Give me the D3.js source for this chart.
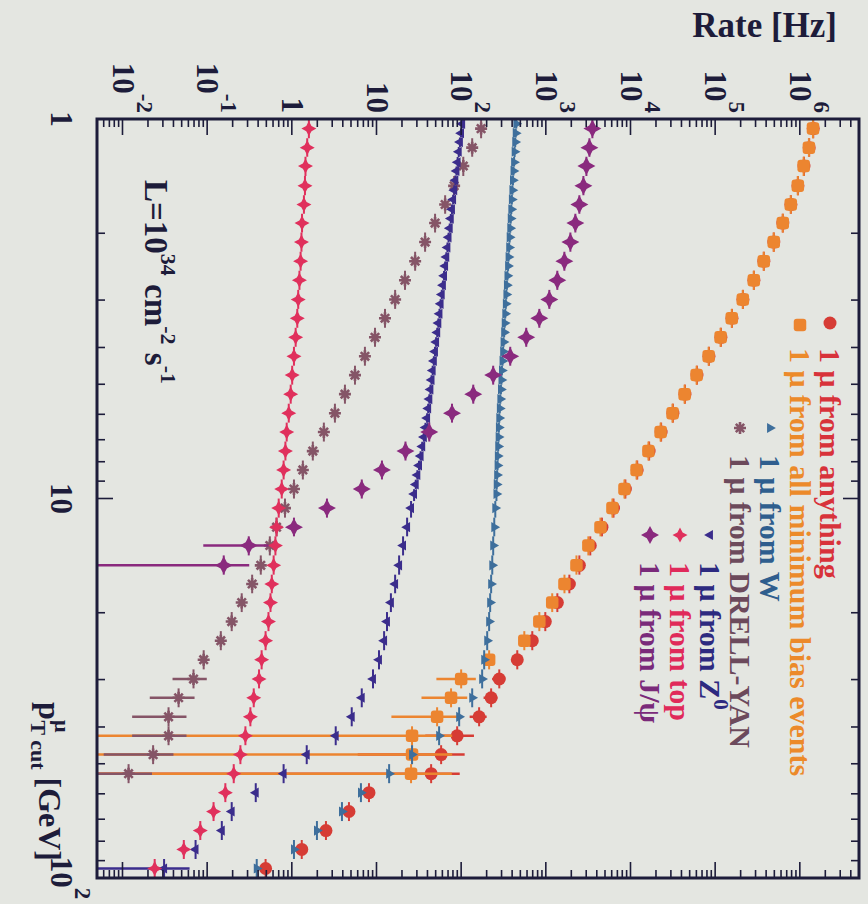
<!DOCTYPE html>
<html>
<head>
<meta charset="utf-8">
<script src="https://cdn.jsdelivr.net/npm/d3@7"></script>
<style>
  body { margin: 0; background: #e4e6e1; }
  svg text { font-family: "Liberation Serif", "Times New Roman", serif; font-weight: bold; }
</style>
</head>
<body>
<svg id="chart" width="868" height="904"></svg>
<script>
// pT cut bin centres (GeV), 20 bins per decade
const ptCut = [1.06, 1.19, 1.33, 1.50, 1.68, 1.88, 2.11, 2.37, 2.66, 2.99,
  3.35, 3.76, 4.22, 4.73, 5.31, 5.96, 6.68, 7.50, 8.41, 9.44,
  10.6, 11.9, 13.3, 15.0, 16.8, 18.8, 21.1, 23.7, 26.6, 29.9,
  33.5, 37.6, 42.2, 47.3, 53.1, 59.6, 66.8, 75.0, 84.1, 94.4];
// finer binning used by W and Z below 10 GeV, then the same bins as above
const ptFine = [1.03, 1.09, 1.15, 1.22, 1.30, 1.37, 1.45, 1.54, 1.63, 1.73,
  1.83, 1.94, 2.05, 2.18, 2.31, 2.44, 2.59, 2.74, 2.90, 3.07,
  3.26, 3.45, 3.65, 3.87, 4.10, 4.34, 4.60, 4.87, 5.16, 5.47,
  5.79, 6.14, 6.50, 6.89, 7.29, 7.73, 8.18, 8.67, 9.18, 9.73,
  10.6, 11.9, 13.3, 15.0, 16.8, 18.8, 21.1, 23.7, 26.6, 29.9,
  33.5, 37.6, 42.2, 47.3, 53.1, 59.6, 66.8, 75.0, 84.1, 94.4];

// rates in Hz, one value per bin starting at the first bin
const rateAnything = [1.44e6, 1.29e6, 1.12e6, 9.5e5, 7.85e5, 6.3e5, 4.93e5, 3.76e5, 2.87e5, 2.13e5,
  1.58e5, 1.17e5, 8.45e4, 6.1e4, 4.4e4, 3.17e4, 2.3e4, 1.66e4, 1.2e4, 8.7e3,
  6.3e3, 4.6e3, 3.35e3, 2490, 1897, 1368, 986, 692, 460, 282,
  226, 163, 89.7, 58, 44.2, 8.15, 4.73, 2.53, 1.31, 0.49];
const rateMinBias = [1.43e6, 1.28e6, 1.11e6, 9.47e5, 7.82e5, 6.29e5, 4.92e5, 3.75e5, 2.86e5, 2.12e5,
  1.57e5, 1.16e5, 8.38e4, 6.04e4, 4.36e4, 3.14e4, 2.27e4, 1.63e4, 1.18e4, 8.49e3,
  6.12e3, 4.42e3, 3.18e3, 2.30e3, 1.66e3, 1.19e3, 838, 557, 214, 100,
  76, 52, 26.3, 26.3, 25.6];
const rateW = [448, 441, 435, 428, 422, 415, 409, 403, 397, 391,
  385, 380, 374, 369, 363, 358, 352, 347, 342, 337,
  332, 327, 322, 317, 313, 308, 303, 299, 295, 290,
  286, 282, 279, 277, 274, 271, 269, 266, 263, 261,
  253, 246, 239, 233, 226, 220, 214, 203, 187, 177,
  135, 94.7, 54.9, 26.3, 14.1, 6.55, 3.91, 1.98, 1.06, 0.385];
const rateDY = [172, 135, 106, 82.6, 64.7, 49.2, 37.5, 28.6, 21.7, 16.6,
  12.6, 9.6, 7.3, 5.57, 4.24, 3.23, 2.39, 1.77, 1.35, 1.06,
  0.83, 0.66, 0.55, 0.43, 0.34, 0.256, 0.195, 0.145, 0.091, 0.069,
  0.046, 0.035, 0.035, 0.023, 0.0118];
const rateZ = [102.8, 99.7, 96.7, 93.7, 90.9, 88.1, 85.5, 82.9, 80.4, 77.9,
  75.5, 73.3, 71.0, 68.9, 66.8, 64.7, 62.8, 60.9, 59.0, 57.2,
  55.5, 53.8, 52.2, 50.6, 49.1, 47.6, 46.1, 44.7, 43.4, 42.1,
  40.8, 39.6, 37.9, 36.3, 34.7, 33.2, 31.8, 30.4, 29.1, 27.8,
  25.6, 23.0, 20.6, 18.5, 16.6, 14.8, 13.3, 12.3, 10.7, 9.1,
  6.7, 5.1, 3.3, 1.5, 0.80, 0.375, 0.195, 0.149, 0.073, 0.031];
const rateTop = [1.59, 1.52, 1.45, 1.43, 1.39, 1.32, 1.30, 1.27, 1.23, 1.19,
  1.16, 1.11, 1.06, 1.01, 0.97, 0.92, 0.87, 0.84, 0.80, 0.76,
  0.70, 0.66, 0.64, 0.61, 0.58, 0.56, 0.53, 0.49, 0.44, 0.41,
  0.355, 0.324, 0.283, 0.247, 0.206, 0.164, 0.119, 0.083, 0.053, 0.024];
const rateJpsi = [3548, 3273, 3015, 2779, 2490, 2233, 1950, 1656, 1367, 1100,
  838, 587, 380, 239, 139, 78, 42, 22, 11.6, 6.7,
  2.6, 1.06, 0.31, 0.157];

// statistical errors (Hz) where they are visible, keyed by bin index
const errAnything = {29: 50, 30: 42, 31: 37, 32: 52, 33: 52, 34: 52};
const errMinBias = {29: 49, 30: 42, 31: 37, 32: 52, 33: 52, 34: 52};
const errDY = {29: 0.03, 30: 0.025, 31: 0.022, 32: 0.022, 33: 0.017, 34: 0.0105};
const errZ = {59: 0.031};
const errJpsi = {22: 0.22, 23: 0.157};

const rateTicks = ["10^-2", "10^-1", "1", "10", "10^2", "10^3", "10^4", "10^5", "10^6"];
const ptTicks = ["1", "10", "10^2"];

const series = [
  {label: "1 \u03bc from anything", pt: ptCut, values: rateAnything, err: errAnything, color: "#d63c35", text: "#d8323a", shape: "circle", size: 13},
  {label: "1 \u03bc from all minimum bias events", pt: ptCut, values: rateMinBias, err: errMinBias, color: "#ec8530", text: "#ec8a2a", shape: "square", size: 12.5},
  {label: "1 \u03bc from W", pt: ptFine, values: rateW, err: {}, color: "#3e6f9c", text: "#2f5e8e", shape: "triUp", size: 10},
  {label: "1 \u03bc from DRELL-YAN", pt: ptCut, values: rateDY, err: errDY, color: "#855567", text: "#6c4a5c", shape: "star", size: 12},
  {label: "1 \u03bc from Z", sup: "0", pt: ptFine, values: rateZ, err: errZ, color: "#3b2d8c", text: "#2d2a80", shape: "triDown", size: 10},
  {label: "1 \u03bc from top", pt: ptCut, values: rateTop, err: {}, color: "#e0305c", text: "#e02a5a", shape: "diamond", size: 15},
  {label: "1 \u03bc from J/\u03c8", pt: ptCut, values: rateJpsi, err: errJpsi, color: "#8a2a7e", text: "#7a2a7a", shape: "diamond", size: 18}
];

// legend placement: column centre (screen x), marker y, text start y
const legendPos = [[830, 323, 348], [800, 325, 348], [770, 428, 455], [740, 428, 455],
  [710, 535, 562], [680, 535, 562], [650, 535, 562]];

const W = 759, H = 762;
const svg = d3.select("#chart");
svg.append("rect").attr("width", 868).attr("height", 904).attr("fill", "#e4e6e1");

// the whole plot is drawn turned a quarter turn clockwise
const g = svg.append("g").attr("transform", "translate(859,119) rotate(90)");

const x = d3.scaleLog().domain([1, 100]).range([0, W]);
const y = d3.scaleLog().domain([5e-3, 5e6]).range([H, 0]);

g.append("clipPath").attr("id", "clip").append("rect").attr("width", W).attr("height", H);

function markerPath(shape, s) {
  const h = s / 2;
  if (shape === "circle") return d3.symbol(d3.symbolCircle, Math.PI * h * h)();
  if (shape === "square") return `M${-h + 3},${-h}h${s - 6}q3,0 3,3v${s - 6}q0,3 -3,3h${-(s - 6)}q-3,0 -3,-3v${-(s - 6)}q0,-3 3,-3Z`;
  if (shape === "triUp" || shape === "triDown") return d3.symbol(d3.symbolTriangle, s * s * 0.45)();
  if (shape === "diamond") {
    const a = h * 0.35;
    return `M0,${-h}L${a},${-a}L${h},0L${a},${a}L0,${h}L${-a},${a}L${-h},0L${-a},${-a}Z`;
  }
  if (shape === "star") {
    const a = h * 0.7;
    return `M${-h},0L${h},0M0,${-h}L0,${h}M${-a},${-a}L${a},${a}M${-a},${a}L${a},${-a}`;
  }
}

function drawMarker(sel, d, cx, cy) {
  const p = sel.append("path")
    .attr("d", markerPath(d.shape, d.size))
    .attr("transform", `translate(${cx},${cy})` + (d.shape === "triDown" ? " rotate(180)" : ""));
  if (d.shape === "star") p.attr("fill", "none").attr("stroke", d.color).attr("stroke-width", 2.6);
  else p.attr("fill", d.color);
}

const plot = g.append("g").attr("clip-path", "url(#clip)");

series.forEach(function (s) {
  const sg = plot.append("g");
  const pt = s.pt;
  s.values.forEach(function (r, i) {
    // bin edges half way (in log) to the neighbouring bins
    const lo = i > 0 ? Math.sqrt(pt[i - 1] * pt[i]) : pt[0] * Math.sqrt(pt[0] / pt[1]);
    const hi = i < pt.length - 1 ? Math.sqrt(pt[i] * pt[i + 1]) : pt[i] * Math.sqrt(pt[i] / pt[i - 1]);
    sg.append("line")
      .attr("x1", x(lo)).attr("x2", x(hi))
      .attr("y1", y(r)).attr("y2", y(r))
      .attr("stroke", s.color).attr("stroke-width", 2);
    const e = s.err[i];
    if (e) {
      const bottom = r - e > 0 ? y(r - e) : H + 5;
      sg.append("line")
        .attr("x1", x(pt[i])).attr("x2", x(pt[i]))
        .attr("y1", bottom).attr("y2", y(r + e))
        .attr("stroke", s.color).attr("stroke-width", 2.5);
    }
  });
  s.values.forEach(function (r, i) {
    drawMarker(sg, s, x(pt[i]), y(r));
  });
});

// frame and ticks on all four sides
const ink = "#1d1c3a";
const ticks = g.append("g").attr("stroke", ink).attr("stroke-width", 1.6);
const isMajor = t => Math.abs(Math.log10(t) - Math.round(Math.log10(t))) < 1e-9;
x.ticks(10).forEach(function (t) {
  const L = isMajor(t) ? 16 : 8;
  ticks.append("line").attr("x1", x(t)).attr("x2", x(t)).attr("y1", H).attr("y2", H - L);
  ticks.append("line").attr("x1", x(t)).attr("x2", x(t)).attr("y1", 0).attr("y2", L);
});
y.ticks(20).forEach(function (t) {
  const L = isMajor(t) ? 16 : 8;
  ticks.append("line").attr("y1", y(t)).attr("y2", y(t)).attr("x1", 0).attr("x2", L);
  ticks.append("line").attr("y1", y(t)).attr("y2", y(t)).attr("x1", W).attr("x2", W - L);
});
g.append("rect").attr("width", W).attr("height", H)
  .attr("fill", "none").attr("stroke", ink).attr("stroke-width", 3);

// label with optional "^" exponent
function powText(sel, str, fs, sfs, rise) {
  const parts = str.split("^");
  sel.append("tspan").attr("font-size", fs).text(parts[0]);
  if (parts[1]) sel.append("tspan").attr("font-size", sfs).attr("dy", -rise).text(parts[1]);
}

const tickVals = [1e-2, 1e-1, 1, 10, 1e2, 1e3, 1e4, 1e5, 1e6];
rateTicks.forEach(function (lab, i) {
  const t = g.append("text").attr("x", -6).attr("y", y(tickVals[i]) + 10)
    .attr("text-anchor", "end").attr("fill", ink);
  powText(t, lab, 31, 23, 24);
});
[1, 10, 100].forEach(function (v, i) {
  const t = g.append("text").attr("x", x(v)).attr("y", H + 46)
    .attr("text-anchor", "middle").attr("fill", ink);
  powText(t, ptTicks[i], 31, 23, 24);
});

// axis titles
svg.append("text").attr("x", 837).attr("y", 37).attr("text-anchor", "end")
  .attr("font-size", 35).attr("fill", ink).text("Rate [Hz]");
const xt = g.append("text").attr("x", W - 17).attr("y", H + 58).attr("text-anchor", "end").attr("fill", ink);
xt.append("tspan").attr("font-size", 32).text("p");
xt.append("tspan").attr("font-size", 22).attr("dy", -16).text("\u03bc");
xt.append("tspan").attr("font-size", 22).attr("dy", 24).attr("dx", -12).text("T cut");
xt.append("tspan").attr("font-size", 32).attr("dy", -8).text(" [GeV]");

// luminosity
const lum = g.append("text").attr("x", 61).attr("y", 859 - 145).attr("fill", ink);
lum.append("tspan").attr("font-size", 33).text("L=10");
lum.append("tspan").attr("font-size", 22).attr("dy", -16).text("34");
lum.append("tspan").attr("font-size", 33).attr("dy", 16).text(" cm");
lum.append("tspan").attr("font-size", 22).attr("dy", -16).text("-2");
lum.append("tspan").attr("font-size", 33).attr("dy", 16).text(" s");
lum.append("tspan").attr("font-size", 22).attr("dy", -16).text("-1");

// legend
const leg = g.append("g");
series.forEach(function (s, i) {
  const [c, m, st] = legendPos[i];
  drawMarker(leg, s, m - 119, 859 - c);
  const t = leg.append("text").attr("x", st - 119).attr("y", 859 - c + 10)
    .attr("font-size", 30).attr("fill", s.text).text(s.label);
  if (s.sup) t.append("tspan").attr("font-size", 21).attr("dy", -14).text(s.sup);
});
</script>
</body>
</html>
